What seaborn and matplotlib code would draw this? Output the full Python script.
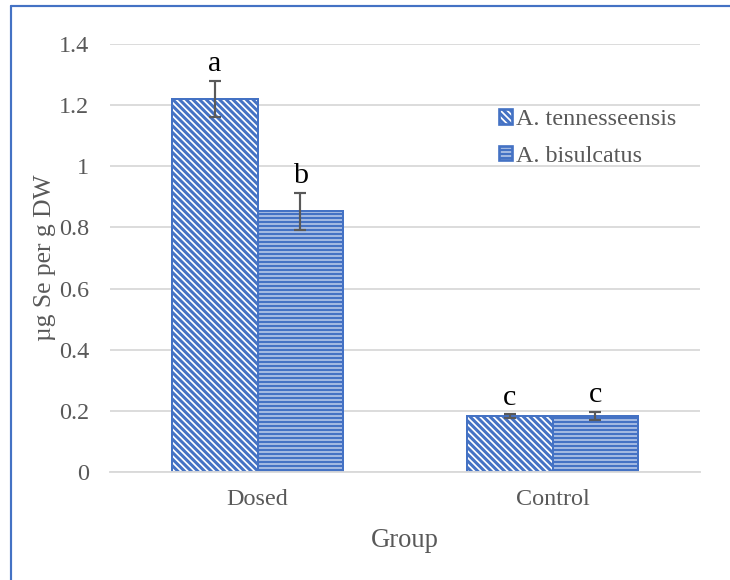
import matplotlib
matplotlib.use("Agg")
import matplotlib.pyplot as plt
import seaborn as sns
import pandas as pd
from matplotlib.lines import Line2D
from matplotlib.container import BarContainer

groups = ["Dosed", "Control"]
species = ["A. tennesseensis", "A. bisulcatus"]
tenn_vals = [1.22, 0.183]
bis_vals = [0.853, 0.183]
tenn_err = [0.06, 0.006]
bis_err = [0.06, 0.014]
tenn_letters = ["a", "c"]
bis_letters = ["b", "c"]
yticks = [0, 0.2, 0.4, 0.6, 0.8, 1, 1.2, 1.4]
ytick_labels = ["0", "0.2", "0.4", "0.6", "0.8", "1", "1.2", "1.4"]

BLUE = "#4472C4"
GREY = "#595959"
BS = chr(92)

sns.set_theme(style="white")
plt.rcParams["font.family"] = ["Liberation Serif", "DejaVu Serif"]
plt.rcParams["hatch.linewidth"] = 1.8
plt.rcParams["hatch.color"] = BLUE

df = pd.DataFrame({
    "Group": groups * 2,
    "Species": [species[0]] * 2 + [species[1]] * 2,
    "Value": tenn_vals + bis_vals,
})

DPI = 120
fig = plt.figure(figsize=(730 / DPI, 580 / DPI), dpi=DPI)
ax = fig.add_axes([110 / 730, 1 - 472 / 580, 590 / 730, (472 - 44) / 580])

sns.barplot(data=df, x="Group", y="Value", hue="Species", order=groups,
            hue_order=species, width=0.58, gap=0, errorbar=None,
            palette=["white", "white"], edgecolor=BLUE, linewidth=1.2, ax=ax)

hatches = [BS * 6, "-" * 5]
errs = [tenn_err, bis_err]
vals = [tenn_vals, bis_vals]
letters = [tenn_letters, bis_letters]
bar_containers = [c for c in ax.containers if isinstance(c, BarContainer)]
for si, cont in enumerate(bar_containers):
    for gi, bar in enumerate(list(cont)):
        bar.set_hatch(hatches[si])
        bar.set_edgecolor(BLUE)
        cx = bar.get_x() + bar.get_width() / 2
        v = vals[si][gi]
        e = errs[si][gi]
        ax.errorbar(cx, v, yerr=e, fmt="none", ecolor=GREY, elinewidth=1.3,
                    capsize=3.6, capthick=1.3, zorder=5)
        ax.text(cx, v + e + 0.012, letters[si][gi], ha="center", va="bottom",
                fontsize=18, color="black")

ax.set_ylim(0, 1.4)
ax.set_xlim(-0.5, 1.5)
ax.set_yticks(yticks)
ax.set_yticklabels(ytick_labels)
ax.yaxis.grid(True, color="#D9D9D9", linewidth=1.1)
ax.set_axisbelow(True)
for s in ["top", "right", "left"]:
    ax.spines[s].set_visible(False)
ax.spines["bottom"].set_color("#D9D9D9")
ax.spines["bottom"].set_linewidth(1.1)
ax.tick_params(axis="both", length=0, labelsize=14.5, labelcolor=GREY)
ax.tick_params(axis="y", pad=12.5)
ax.tick_params(axis="x", pad=10)
ax.set_xlabel("Group", fontsize=16, color=GREY, labelpad=11)
ax.set_ylabel("µg Se per g DW", fontsize=15.3, color=GREY, labelpad=2)

leg = ax.legend(loc="upper left", bbox_to_anchor=(499 / 730, 1 - 109 / 580),
                bbox_transform=fig.transFigure, frameon=False, fontsize=14.5,
                handlelength=0.55, handleheight=0.55, handletextpad=0.15,
                labelspacing=0.65, borderpad=0, borderaxespad=0)
for t in leg.get_texts():
    t.set_color(GREY)
for h, hatch in zip(leg.legend_handles, hatches):
    h.set_hatch(hatch)
    h.set_edgecolor(BLUE)
    h.set_facecolor("white")
    h.set_linewidth(1.6)

fig.add_artist(Line2D([10.5 / 730, 10.5 / 730], [0, 1 - 5.5 / 580],
                      transform=fig.transFigure, color=BLUE, linewidth=1.3))
fig.add_artist(Line2D([10.5 / 730, 1], [1 - 5.5 / 580, 1 - 5.5 / 580],
                      transform=fig.transFigure, color=BLUE, linewidth=1.3))

fig.savefig("out.png", dpi=DPI)
